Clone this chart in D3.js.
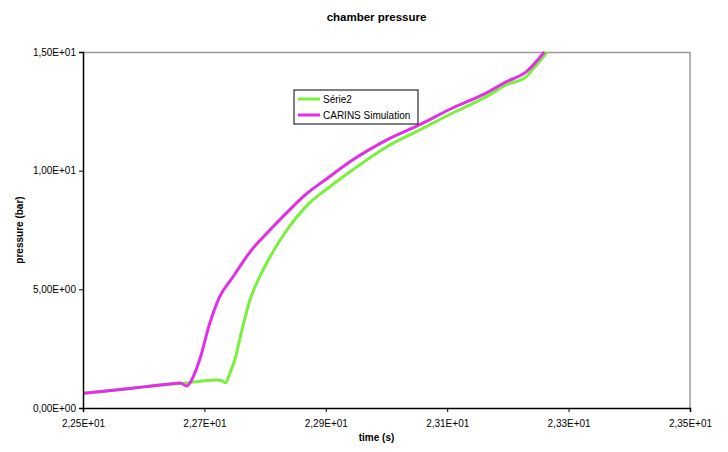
<!DOCTYPE html>
<html>
<head>
<meta charset="utf-8">
<script src="https://cdn.jsdelivr.net/npm/d3@7"></script>
<style>
  body { margin: 0; background: #fff; }
  text { font-family: "Liberation Sans", Arial, sans-serif; }
</style>
</head>
<body>
<div id="chart"></div>
<script>
// measured series (time s, pressure bar)
const serie2Time = [22.5, 22.55, 22.6, 22.64, 22.66, 22.676, 22.72, 22.729, 22.735, 22.742, 22.75, 22.762,
  22.775, 22.791, 22.808, 22.836, 22.87, 22.906, 22.944, 23.0, 23.054, 23.109, 23.164, 23.197, 23.23,
  23.24, 23.265];
const serie2Pressure = [0.62, 0.75, 0.89, 1.0, 1.03, 1.08, 1.18, 1.14, 1.06, 1.47, 2.02, 3.3,
  4.55, 5.52, 6.36, 7.5, 8.56, 9.31, 10.03, 11.0, 11.71, 12.43, 13.11, 13.61, 13.95,
  14.24, 15.0];

const carinsTime = [22.5, 22.55, 22.6, 22.64, 22.66, 22.671, 22.679, 22.692, 22.709, 22.725, 22.747,
  22.775, 22.808, 22.84, 22.87, 22.901, 22.944, 23.0, 23.054, 23.109, 23.164, 23.197, 23.23, 23.26];
const carinsPressure = [0.62, 0.75, 0.89, 1.0, 1.05, 0.93, 1.18, 2.02, 3.58, 4.68, 5.52,
  6.57, 7.5, 8.34, 9.06, 9.65, 10.45, 11.29, 11.93, 12.64, 13.27, 13.74, 14.16, 15.0];

const xTicks = [22.5, 22.7, 22.9, 23.1, 23.3, 23.5];
const yTicks = [0, 5, 10, 15];
const seriesNames = ["Série2", "CARINS Simulation"];

const width = 728, height = 452;
const margin = { left: 83, right: 38, top: 52, bottom: 44 };
const innerW = width - margin.left - margin.right;
const innerH = height - margin.top - margin.bottom;

const fmtSci = v => {
  const [m, e] = v.toExponential(2).split("e");
  const n = parseInt(e, 10);
  return m.replace(".", ",") + "E" + (n < 0 ? "-" : "+") + String(Math.abs(n)).padStart(2, "0");
};

const svg = d3.select("#chart").append("svg")
  .attr("width", width).attr("height", height);

const x = d3.scaleLinear().domain([22.5, 23.5]).range([0, innerW]);
const y = d3.scaleLinear().domain([0, 15]).range([innerH, 0]);

const chart = svg.append("g").attr("transform", `translate(${margin.left},${margin.top})`);

svg.append("defs").append("clipPath").attr("id", "clip")
  .append("rect").attr("y", -2).attr("width", innerW).attr("height", innerH + 2);

// plot frame top/right (gray)
chart.append("path")
  .attr("d", `M0,0.5H${innerW}V${innerH}`)
  .attr("fill", "none").attr("stroke", "#9a9a9a").attr("stroke-width", 1.5);

// lines
const line = d3.line().x(d => x(d[0])).y(d => y(d[1])).curve(d3.curveMonotoneX);
const series = [
  { color: "#78f03c", pts: d3.zip(serie2Time, serie2Pressure) },
  { color: "#e22ee6", pts: d3.zip(carinsTime, carinsPressure) }
];
chart.append("g").attr("clip-path", "url(#clip)")
  .selectAll("path").data(series).join("path")
  .attr("d", d => line(d.pts))
  .attr("fill", "none")
  .attr("stroke", d => d.color)
  .attr("stroke-width", 3)
  .attr("stroke-linejoin", "round");

// axes
const yAxis = chart.append("g")
  .call(d3.axisLeft(y).tickValues(yTicks).tickFormat(fmtSci).tickSize(4).tickPadding(3));
const xAxis = chart.append("g").attr("transform", `translate(0,${innerH})`)
  .call(d3.axisBottom(x).tickValues(xTicks).tickFormat(fmtSci).tickSize(4).tickPadding(8));
[xAxis, yAxis].forEach(a => {
  a.select(".domain").attr("stroke", "#000").attr("stroke-width", 1.5);
  a.selectAll("text").attr("font-size", 10).attr("fill", "#000")
    .style("font-family", "'Liberation Sans', Arial, sans-serif");
});

// titles
svg.append("text")
  .attr("x", margin.left + innerW / 2 - 10).attr("y", 21)
  .attr("text-anchor", "middle").attr("font-weight", "bold").attr("font-size", 11.5)
  .text("chamber pressure");
svg.append("text")
  .attr("x", margin.left + innerW / 2 - 10).attr("y", 441)
  .attr("text-anchor", "middle").attr("font-weight", "bold").attr("font-size", 10)
  .text("time (s)");
svg.append("text")
  .attr("transform", `translate(23,${margin.top + innerH / 2}) rotate(-90)`)
  .attr("text-anchor", "middle").attr("font-weight", "bold").attr("font-size", 10)
  .text("pressure (bar)");

// legend
const legend = svg.append("g").attr("transform", "translate(294,90)");
legend.append("rect").attr("width", 124).attr("height", 34)
  .attr("fill", "#fff").attr("stroke", "#000").attr("stroke-width", 1);
seriesNames.forEach((name, i) => {
  const g = legend.append("g").attr("transform", `translate(0,${9 + i * 16})`);
  g.append("line").attr("x1", 4).attr("x2", 26)
    .attr("stroke", series[i].color).attr("stroke-width", 3);
  g.append("text").attr("x", 29).attr("y", 4).attr("font-size", 10).text(name);
});
</script>
</body>
</html>
